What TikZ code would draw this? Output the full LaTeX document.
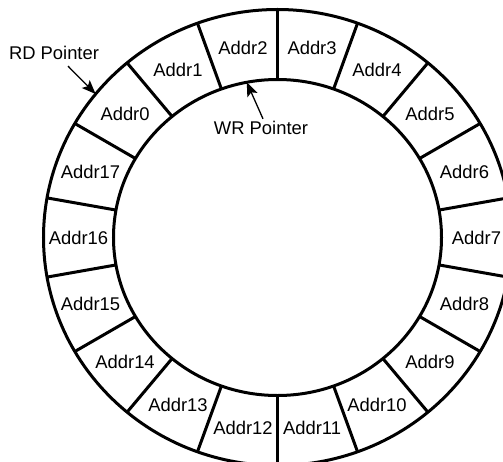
\documentclass[tikz,border=0pt]{standalone}
\usepackage{fontspec}
\setmainfont{Liberation Sans}
\usetikzlibrary{arrows.meta}
\begin{document}
\begin{tikzpicture}[>={Stealth[length=7pt,width=5.5pt,inset=1.5pt]}, x=0.5pt, y=0.5pt,
  ring/.style={line width=1.5pt},
  cell/.style={inner sep=1pt, font=\fontsize{9.2}{11}\selectfont},
  ptr/.style={->, line width=0.65pt}]

\useasboundingbox (-277.5,-223.5) rectangle (225.5,237.5);
\clip (-277.5,-223.5) rectangle (225.5,237.5);

% the ring buffer
\draw[ring] (0,0) ellipse [x radius=82pt, y radius=79pt];
\draw[ring] (0,0) ellipse [x radius=117pt, y radius=114pt];
\foreach \a in {90,110,...,430}
  \draw[ring] (\a:82pt and 79pt) -- (\a:117pt and 114pt);

\foreach \i in {0,...,17}
  \node[cell] (addr\i) at ({140-20*\i}:99.5pt and 96.5pt) {Addr\i};

% pointers
\coordinate (rdtip) at (141:117pt and 114pt);
\coordinate (wrtip) at (100.8:82pt and 79pt);
\node[cell] (rd) at (-223.5,184.5) {RD Pointer};
\node[cell] (wr) at (-16.5,109.5) {WR Pointer};
\draw[ptr] ([xshift=7pt, yshift=-2pt]rd.south) -- (rdtip);
\draw[ptr] ([xshift=1pt]wr.north) -- (wrtip);

\end{tikzpicture}
\end{document}
